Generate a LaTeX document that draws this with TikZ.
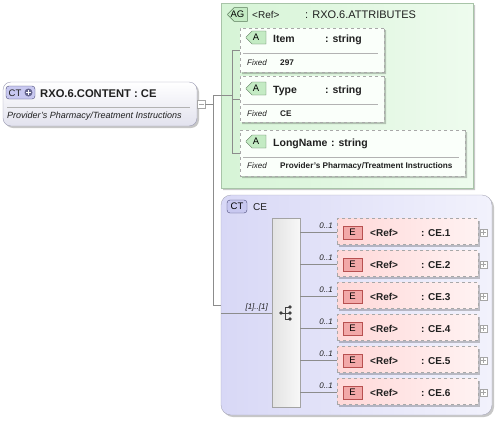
\documentclass[tikz,border=0pt]{standalone}
\usepackage{fontspec}
\setmainfont{Liberation Sans}
\usetikzlibrary{shapes.misc,shadows,calc}
\definecolor{lineC}{HTML}{8C8C8C}
\definecolor{ctB}{HTML}{9C9CB4}
\definecolor{ctBot}{HTML}{E2E2EE}
\definecolor{agL}{HTML}{D6F4D6}
\definecolor{agR}{HTML}{EEFBEE}
\definecolor{agB}{HTML}{A8C4A8}
\definecolor{attF}{HTML}{FAFFFA}
\definecolor{dashC}{HTML}{A8A8A8}
\definecolor{ceL}{HTML}{D8D8F6}
\definecolor{ceR}{HTML}{F2F2FC}
\definecolor{ceB}{HTML}{A8A8B8}
\definecolor{elL}{HTML}{FFD8D8}
\definecolor{elR}{HTML}{FFF2F2}
\definecolor{eBadge}{HTML}{F2A8A8}
\definecolor{eBadgeB}{HTML}{B85050}
\definecolor{aBadge}{HTML}{C4EBC4}
\definecolor{aBadgeB}{HTML}{5A7A5A}
\definecolor{ctBadge}{HTML}{C8C8F0}
\definecolor{ctBadgeB}{HTML}{4A4A78}
\definecolor{txtC}{HTML}{202020}
\newcommand\fHead{\fontsize{10.5}{12}\selectfont\bfseries}
\newcommand\fTitle{\fontsize{11.2}{13}\selectfont\bfseries}
\newcommand\fRef{\fontsize{10}{12}\selectfont}
\newcommand\fAgName{\fontsize{11}{13}\selectfont}
\newcommand\fDesc{\fontsize{9}{11}\selectfont\itshape}
\newcommand\fFixed{\fontsize{8}{10}\selectfont\itshape}
\newcommand\fVal{\fontsize{8.2}{10}\selectfont\bfseries}
\newcommand\fBadge{\fontsize{9.5}{11}\selectfont}
\newcommand\fCard{\fontsize{8}{10}\selectfont\itshape}
\begin{document}
\begin{tikzpicture}[x=1pt,y=-1pt,
  shadowed/.style={drop shadow={shadow xshift=2pt,shadow yshift=-2pt,fill=black,opacity=0.22}},
  base/.style={inner sep=0pt,outer sep=0pt},
  ctbox/.style={base,rectangle,rounded corners=8pt,draw=ctB,top color=white,bottom color=ctBot,shadowed},
  agbox/.style={base,chamfered rectangle,chamfered rectangle xsep=4pt,draw=agB,left color=agL,right color=agR,shadowed},
  attbox/.style={base,chamfered rectangle,chamfered rectangle corners={north west,south west},chamfered rectangle xsep=5pt,draw=dashC,dashed,fill=attF,shadowed},
  cebox/.style={base,rectangle,rounded corners=10pt,draw=ceB,left color=ceL,right color=ceR,shadowed},
  seqbox/.style={base,rectangle,draw=lineC!80,left color=gray!22,right color=gray!6},
  elbox/.style={base,rectangle,draw=dashC,dashed,left color=elL,right color=elR,shadowed},
  ebadge/.style={base,rectangle,draw=eBadgeB,fill=eBadge,minimum width=19pt,minimum height=13pt,font=\fBadge},
  abadge/.style={base,chamfered rectangle,chamfered rectangle corners={north west,south west},chamfered rectangle xsep=3pt,draw=aBadgeB,fill=aBadge,minimum width=20pt,minimum height=13pt,font=\fBadge},
  ctbadge/.style={base,rectangle,rounded corners=3pt,draw=ctBadgeB,fill=ctBadge,minimum height=13pt,font=\fBadge},
  pmbox/.style={base,rectangle,draw=gray!70,fill=white,minimum size=7pt},
  conn/.style={draw=lineC,line width=0.8pt},
  sepline/.style={draw=gray!60,line width=0.7pt},
  lbl/.style={inner sep=0pt,anchor=base west,text=txtC}
]
\useasboundingbox (0,0) rectangle (496,421);

% ---- root complex type
\node[ctbox,minimum width=194pt,minimum height=44pt] (ct) at (100,104) {};
\node[ctbadge,minimum width=29pt] (ctbadge) at (20.5,92.5) {};
\node[lbl,font=\fBadge] at (8.5,96) {CT};
\node[circle,fill=ctBadgeB!85,inner sep=0pt,minimum size=8pt] (plusc) at (28.5,92.5) {};
\draw[white,line width=1.1pt] ($(plusc)+(-2.5,0)$) -- ($(plusc)+(2.5,0)$) ($(plusc)+(0,-2.5)$) -- ($(plusc)+(0,2.5)$);
\node[lbl,font=\fTitle] (cttitle) at (40,97) {RXO.6.CONTENT : CE};
\draw[sepline] (7,107) -- (190,107);
\node[lbl,font=\fDesc] (ctdesc) at (7,118) {Provider's Pharmacy/Treatment Instructions};
\node[pmbox,minimum size=8pt] (minus) at (201,104) {};
\draw[gray!70] ($(minus)+(-2.5,0)$) -- ($(minus)+(2.5,0)$);

% ---- attribute group
\node[agbox,minimum width=252pt,minimum height=185pt] (ag) at (347,95.5) {};
\node[abadge,minimum width=19pt] (agbadge) at (237.5,14.5) {AG};
\node[lbl,font=\fRef] (agref) at (252,18) {<Ref>};
\node[lbl,font=\fAgName] (agname) at (305,18) {: RXO.6.ATTRIBUTES};

\node[attbox,minimum width=144pt,minimum height=44pt] (item) at (312,50) {};
\node[abadge] (ab1) at (256,37.5) {A};
\node[lbl,font=\fHead] at (273,42) {Item};
\node[lbl,font=\fHead] at (325,42) {: string};
\draw[sepline] (243,53) -- (378,53);
\node[lbl,font=\fFixed] at (247,65) {Fixed};
\node[lbl,font=\fVal] at (280,65) {297};

\node[attbox,minimum width=144pt,minimum height=46pt] (type) at (312,99) {};
\node[abadge] (ab2) at (256,88.5) {A};
\node[lbl,font=\fHead] at (273,93) {Type};
\node[lbl,font=\fHead] at (325,93) {: string};
\draw[sepline] (243,104) -- (378,104);
\node[lbl,font=\fFixed] at (247,116) {Fixed};
\node[lbl,font=\fVal] at (280,116) {CE};

\node[attbox,minimum width=225pt,minimum height=46pt] (lname) at (352.5,153) {};
\node[abadge] (ab3) at (256,141.5) {A};
\node[lbl,font=\fHead] at (273,146) {LongName};
\node[lbl,font=\fHead] at (331,146) {: string};
\draw[sepline] (243,157) -- (459,157);
\node[lbl,font=\fFixed] at (247,168) {Fixed};
\node[lbl,font=\fVal] at (280,168) {Provider's Pharmacy/Treatment Instructions};

% ---- complex type CE
\node[cebox,minimum width=271pt,minimum height=220pt] (ce) at (356.5,305) {};
\node[ctbadge,minimum width=20pt] (cebadge) at (237,206.5) {CT};
\node[lbl,font=\fRef] (cetitle) at (253,210) {CE};
\node[seqbox,minimum width=28pt,minimum height=189pt] (seq) at (286,312.5) {};
\fill[black!75] (281,313) circle (1.8pt);
\draw[black!75,line width=0.8pt] (281,313) -- (285,313) (285,307) -- (285,319)
  (285,307) -- (290,307) (285,313) -- (290,313) (285,319) -- (290,319);
\fill[black!75] (290,307) circle (1.8pt) (290,313) circle (1.8pt) (290,319) circle (1.8pt);
\node[inner sep=0pt,anchor=base east,font=\fCard,text=txtC] (card) at (268,309) {[1]..[1]};

\foreach \i in {1,...,6}{
  \pgfmathsetmacro\cy{231.5+32*(\i-1)}
  \node[elbox,minimum width=141pt,minimum height=26pt] (e\i) at (407.5,\cy) {};
  \node[ebadge] (eb\i) at (352.5,\cy+1) {E};
  \node[lbl,font=\fRef\bfseries] at (370,\cy+5) {<Ref>};
  \node[lbl,font=\fRef\bfseries] at (421,\cy+5) {: CE.\i};
  \node[pmbox] (p\i) at (483.5,\cy+1) {};
  \draw[gray!70] ($(p\i)+(-2.2,0)$) -- ($(p\i)+(2.2,0)$) ($(p\i)+(0,-2.2)$) -- ($(p\i)+(0,2.2)$);
  \coordinate (ein\i) at (337,\cy+1);
  \draw[conn] (seq.east |- ein\i) -- (ein\i);
  \node[inner sep=0pt,anchor=base east,font=\fCard,text=txtC] at (333,\cy-3) {0..1};
}

% ---- connectors
\coordinate (jm) at (213,104);
\coordinate (jt) at (213,95);
\coordinate (jb) at (213,305);
\coordinate (bus) at (232,95);
\coordinate (sj) at (221,313);
\draw[conn] (minus.east) -- (jm);
\draw[conn] (jt) -- (jb);
\draw[conn] (jt) -- (bus);
\draw[conn] (bus |- item.west) -- (bus |- lname.west);
\draw[conn] (bus |- item.west) -- (item.west);
\draw[conn] (bus |- type.west) -- (type.west);
\draw[conn] (bus |- lname.west) -- (lname.west);
\draw[conn] (jb) -- (ce.west |- jb);
\draw[conn] (sj) -- (seq.west |- sj);
\end{tikzpicture}
\end{document}
